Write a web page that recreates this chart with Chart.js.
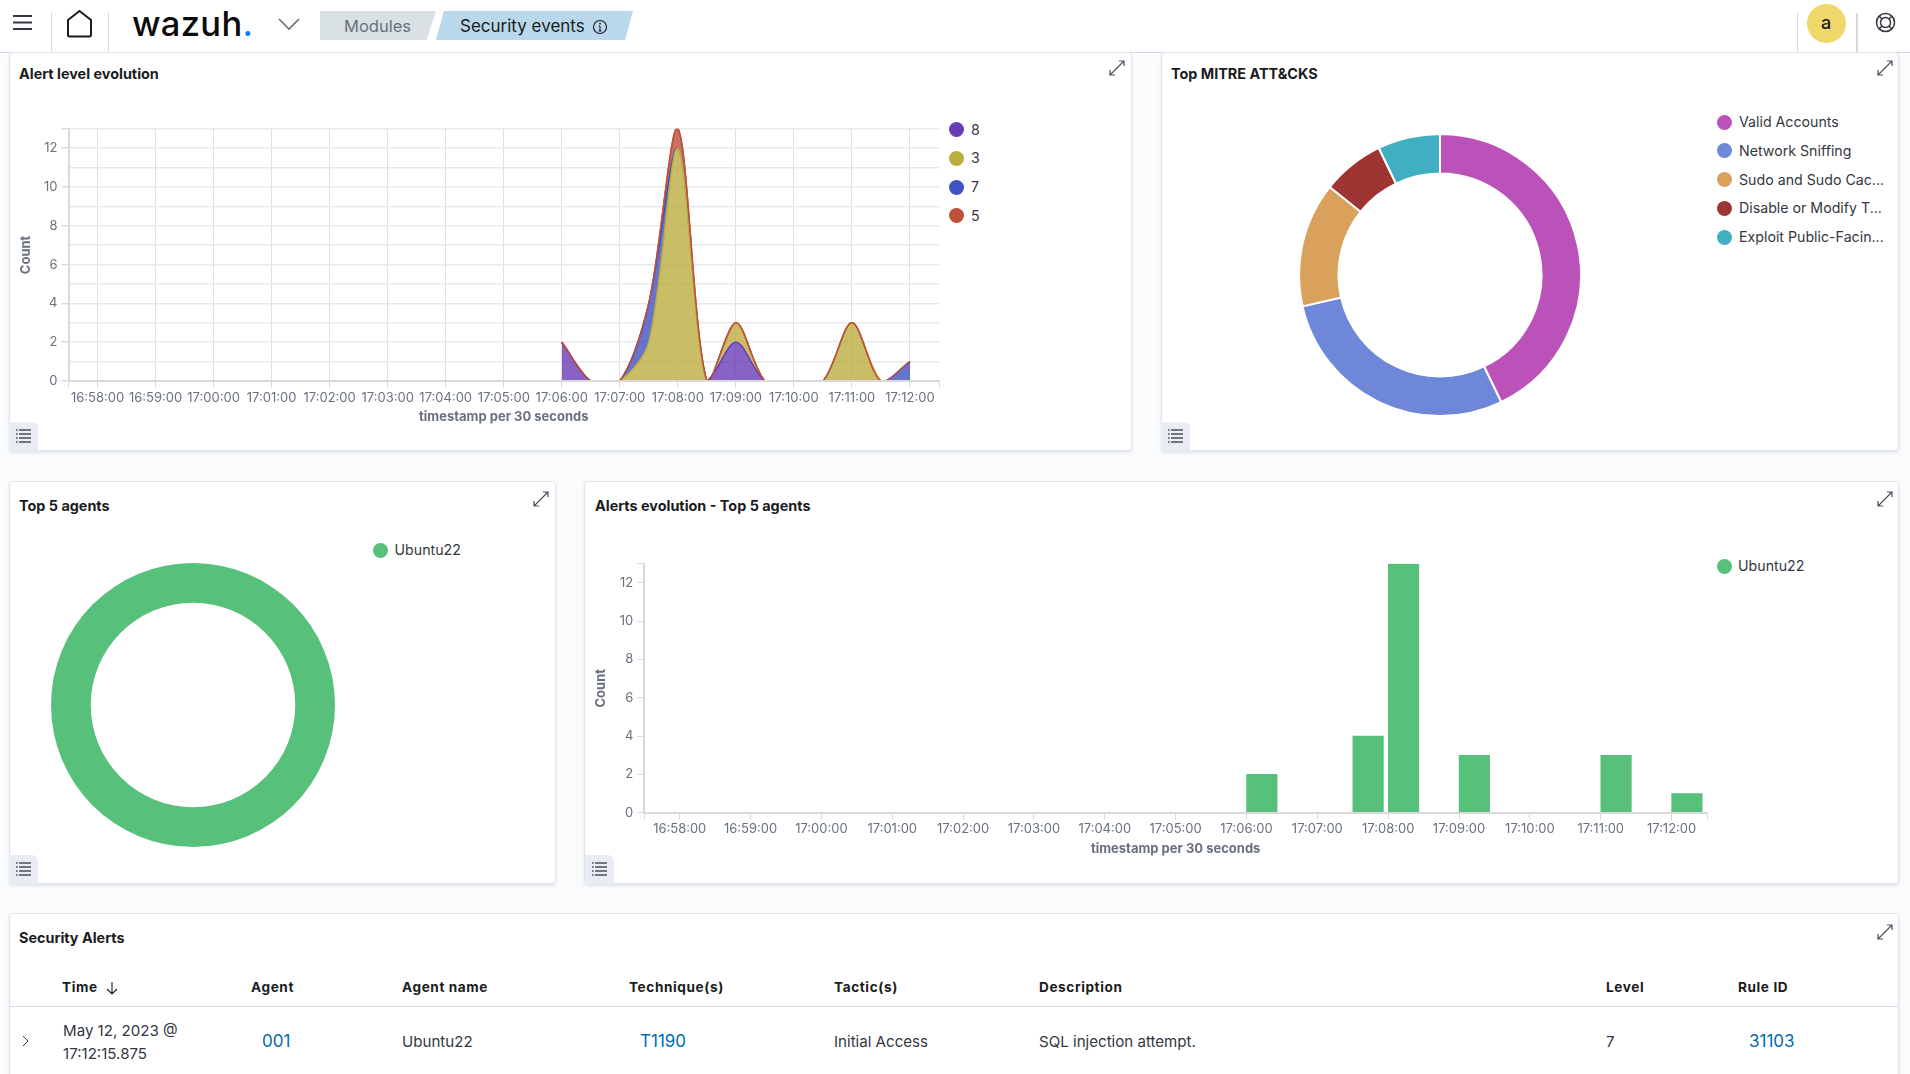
<!DOCTYPE html>
<html>
<head>
<meta charset="utf-8">
<title>Security events</title>
<script src="https://cdn.jsdelivr.net/npm/chart.js"></script>
<style>
html, body { margin: 0; padding: 0; width: 1910px; height: 1074px; overflow: hidden; background: #fafbfd; font-family: Inter, sans-serif; color: #343741; }
.abs, .panel, canvas, svg, .txt { position: absolute; }
.txt { white-space: nowrap; line-height: 1; }
#topbar { position: absolute; left: 0; top: 0; width: 1910px; height: 52px; background: #fff; border-bottom: 1px solid #d3dae6; }
.sep { position: absolute; top: 13px; width: 1px; height: 39px; background: #d3dae6; }
.panel { background: #fff; border: 1px solid #dfe4ee; border-radius: 4px; box-sizing: border-box; box-shadow: 0 2px 3px rgba(152,162,179,.25); }
.title { font-size: 14.4px; font-weight: 700; color: #1a1c21; }
.toggle { position: absolute; width: 29px; height: 29px; background: #e9edf3; border-radius: 0 6px 0 4px; }
.dot { position: absolute; width: 15px; height: 15px; border-radius: 50%; }
.leg { font-size: 14.2px; color: #343741; }
.th { font-size: 13.6px; font-weight: 700; color: #1a1c21; letter-spacing: .6px; }
.td { font-size: 15.1px; color: #343741; }
.link { font-size: 17px; color: #006bb4; }
</style>
</head>
<body>

<div id="topbar">
  <svg style="left:13px;top:14px" width="20" height="18" viewBox="0 0 20 18"><path d="M0 2h19M0 8.5h19M0 15h19" stroke="#343741" stroke-width="2"/></svg>
  <div class="sep" style="left:51px"></div>
  <svg style="left:66px;top:9px" width="27" height="29" viewBox="0 0 27 29"><path d="M2 11 L13.5 2 L25 11 V26 Q25 27.5 23 27.5 H4 Q2 27.5 2 26 Z" fill="none" stroke="#1a1c21" stroke-width="2"/></svg>
  <div class="sep" style="left:108px"></div>
  <div class="txt" style="left:132px;top:7px;font-size:34.5px;font-weight:500;color:#0b0b0d;letter-spacing:.3px">wazuh<span style="color:#0a7cff">.</span></div>
  <svg style="left:277px;top:17px" width="24" height="14" viewBox="0 0 24 14"><path d="M2 2 L12 12 L22 2" fill="none" stroke="#69707d" stroke-width="1.6"/></svg>
  <div class="abs" style="left:320px;top:11px;width:116px;height:29px;background:#d9e1e4;clip-path:polygon(0 0,100% 0,92% 100%,0 100%)"></div>
  <div class="txt" style="left:344px;top:18px;font-size:16.5px;color:#69707d">Modules</div>
  <div class="abs" style="left:436px;top:11px;width:197px;height:29px;background:#b9d8ec;clip-path:polygon(4% 0,100% 0,96% 100%,0 100%)"></div>
  <div class="txt" style="left:460px;top:18px;font-size:17px;color:#1a1c21">Security events</div>
  <svg style="left:592px;top:19px" width="16" height="16" viewBox="0 0 16 16"><circle cx="8" cy="8" r="6.5" fill="none" stroke="#1a1c21" stroke-width="1.1"/><path d="M8 7v5M6.5 12h3M6.8 7H8" stroke="#1a1c21" stroke-width="1.1" fill="none"/><circle cx="8" cy="4.6" r=".9" fill="#1a1c21"/></svg>
  <div class="sep" style="left:1797px"></div>
  <div class="abs" style="left:1807px;top:4px;width:39px;height:39px;border-radius:50%;background:#f0d76c"></div>
  <div class="txt" style="left:1821px;top:14px;font-size:18px;font-weight:500;color:#1a1c21">a</div>
  <div class="sep" style="left:1856px;width:2px"></div>
  <svg style="left:1875px;top:12px" width="21" height="21" viewBox="0 0 21 21"><g fill="none" stroke="#343741" stroke-width="1.5"><circle cx="10.5" cy="10.5" r="9"/><circle cx="10.5" cy="10.5" r="5"/><path d="M4 4l3 3M17 4l-3 3M4 17l3-3M17 17l-3-3"/></g></svg>
</div>

<div class="panel" style="left:9px;top:52px;width:1123px;height:399px"></div>
<div class="panel" style="left:1161px;top:52px;width:738px;height:399px"></div>
<div class="panel" style="left:9px;top:481px;width:547px;height:403px"></div>
<div class="panel" style="left:584px;top:481px;width:1315px;height:403px"></div>
<div class="panel" style="left:9px;top:913px;width:1890px;height:200px"></div>

<div class="txt title" style="left:19px;top:67px">Alert level evolution</div>
<div class="txt title" style="left:1171px;top:67px">Top MITRE ATT&amp;CKS</div>
<div class="txt title" style="left:19px;top:499px">Top 5 agents</div>
<div class="txt title" style="left:595px;top:499px">Alerts evolution - Top 5 agents</div>
<div class="txt title" style="left:19px;top:931px">Security Alerts</div>

<canvas id="level-chart" width="935" height="308" style="left:10px;top:117px"></canvas>
<canvas id="mitre-chart" width="284" height="284" style="left:1298px;top:133px"></canvas>
<canvas id="agents-chart" width="284" height="284" style="left:50.5px;top:563px"></canvas>
<canvas id="evolution-chart" width="1128" height="305" style="left:585px;top:552px"></canvas>

<div id="level-legend"></div>
<div id="mitre-legend"></div>
<div id="agents-legend"></div>
<div id="evolution-legend"></div>

<div id="icons"></div>

<div class="txt th" style="left:62px;top:981px">Time</div>
<svg style="left:105px;top:981px" width="14" height="14" viewBox="0 0 14 14"><path d="M7 1v12M2 8l5 5 5-5" fill="none" stroke="#1a1c21" stroke-width="1.1"/></svg>
<div class="txt th" style="left:251px;top:981px">Agent</div>
<div class="txt th" style="left:402px;top:981px">Agent name</div>
<div class="txt th" style="left:629px;top:981px">Technique(s)</div>
<div class="txt th" style="left:834px;top:981px">Tactic(s)</div>
<div class="txt th" style="left:1039px;top:981px">Description</div>
<div class="txt th" style="left:1606px;top:981px">Level</div>
<div class="txt th" style="left:1738px;top:981px">Rule ID</div>
<div class="abs" style="left:10px;top:1006px;width:1888px;height:1px;background:#d3dae6"></div>

<svg style="left:22px;top:1035px" width="8" height="12" viewBox="0 0 8 12"><path d="M1 1l5 5-5 5" fill="none" stroke="#343741" stroke-width="1"/></svg>
<div class="txt td" style="left:63px;top:1022.5px">May 12, 2023 @</div>
<div class="txt td" style="left:63px;top:1045.5px">17:12:15.875</div>
<div class="txt link" style="left:262px;top:1033px">001</div>
<div class="txt td" style="left:402px;top:1034px">Ubuntu22</div>
<div class="txt link" style="left:640px;top:1033px">T1190</div>
<div class="txt td" style="left:834px;top:1034px">Initial Access</div>
<div class="txt td" style="left:1039px;top:1034px">SQL injection attempt.</div>
<div class="txt td" style="left:1606px;top:1034px">7</div>
<div class="txt link" style="left:1749px;top:1033px">31103</div>

<script>
// Alert level evolution
var levelTimes = ['17:06:00','17:06:30','17:07:00','17:07:30','17:08:00','17:08:30','17:09:00','17:09:30','17:10:00','17:10:30','17:11:00','17:11:30','17:12:00'];
var level8 = [2,0,0,0,0,0,2,0,0,0,0,0,0];
var level3 = [0,0,0,2,12,0,1,0,0,0,3,0,0];
var level7 = [0,0,0,2,0,0,0,0,0,0,0,0,1];
var level5 = [0,0,0,0,1,0,0,0,0,0,0,0,0];
var levelNames = ['8','3','7','5'];

// Top MITRE ATT&CKS
var mitreNames = ['Valid Accounts','Network Sniffing','Sudo and Sudo Cac...','Disable or Modify T...','Exploit Public-Facin...'];
var mitreCounts = [6,4,2,1,1];

// Top 5 agents
var agentNames = ['Ubuntu22'];
var agentCounts = [26];

// Alerts evolution - Top 5 agents
var agentTimes = levelTimes;
var agentSeries = [2,0,0,4,13,0,3,0,0,0,3,0,1];

// axis
var xTickLabels = ['16:58:00','16:59:00','17:00:00','17:01:00','17:02:00','17:03:00','17:04:00','17:05:00','17:06:00','17:07:00','17:08:00','17:09:00','17:10:00','17:11:00','17:12:00'];
var xStart = '16:57:30';
var xEnd = '17:12:30';
var xTitle = 'timestamp per 30 seconds';
var yTitle = 'Count';

var levelColors = ['#6a3cb8','#bcae3e','#3e52c0','#c0503c'];
var levelFills = ['rgba(106,60,184,.8)','rgba(188,174,62,.8)','rgba(62,82,192,.8)','rgba(192,80,60,.8)'];
var mitreColors = ['#bb52b9','#6e87d9','#d9a15c','#9e3533','#40afc1'];
var green = '#57c17b';
var tickGrey = '#69707d';
var lineGrey = '#d9d9d9';

Chart.defaults.font.family = 'Inter';
Chart.defaults.animation = false;

function toSec(t) {
    var p = t.split(':');
    return p[0]*3600 + p[1]*60 + p[2]*1;
}
function fromSec(v) {
    var pad = function(n){ return (n<10?'0':'') + n; };
    return pad(Math.floor(v/3600)) + ':' + pad(Math.floor(v/60)%60) + ':' + pad(v%60);
}
var xMin = toSec(xStart), xMax = toSec(xEnd);

function xAxis(vGrid, height) {
    return {
        type: 'linear', min: xMin, max: xMax, offset: false,
        afterBuildTicks: function(axis) {
            axis.ticks = [xMin].concat(xTickLabels.map(toSec), [xMax]).map(function(v){ return {value:v}; });
        },
        afterFit: function(axis) { axis.height = height; },
        ticks: {
            autoSkip: false, maxRotation: 0, minRotation: 0, padding: 2, color: tickGrey, font: {size: 13},
            callback: function(v) { return (v===xMin || v===xMax) ? '' : fromSec(v); }
        },
        grid: {
            offset: false, tickLength: 7, tickColor: lineGrey, lineWidth: 1,
            drawOnChartArea: vGrid,
            color: function(c) { return (c.tick && (c.tick.value===xMin || c.tick.value===xMax)) ? 'transparent' : '#dfe0e6'; }
        },
        border: {color: lineGrey, width: 2, z: 1},
        title: {display: true, text: xTitle, color: tickGrey, padding: 0, font: {size: 13, weight: 'bold'}}
    };
}
function yAxis(hGrid, width) {
    return {
        min: 0, max: 13, stacked: true,
        afterFit: function(axis) { axis.width = width; },
        ticks: {
            stepSize: 1, autoSkip: false, padding: 4, color: tickGrey, font: {size: 13},
            callback: function(v) { return (v%2 || v===13) ? '' : v; }
        },
        grid: {
            tickLength: 7, lineWidth: hGrid ? 1.5 : 1,
            drawOnChartArea: hGrid, color: '#e8e9ee',
            tickColor: function(c) { return (c.tick && c.tick.value%2 && c.tick.value!==13) ? 'transparent' : lineGrey; }
        },
        border: {color: lineGrey, width: 2},
        title: {display: true, text: yTitle, color: tickGrey, padding: {top: 8, bottom: 0}, font: {size: 13, weight: 'bold'}}
    };
}

function areaSet(values, i) {
    return {
        label: levelNames[i],
        data: levelTimes.map(function(t, k){ return {x: toSec(t), y: values[k]}; }),
        borderColor: levelColors[i], backgroundColor: levelFills[i],
        fill: i===0 ? 'origin' : '-1', clip: 0
    };
}

// the top stack line goes over the others in the original
var topLine = {
    id: 'topLine',
    afterDatasetsDraw: function(chart) {
        var a = chart.chartArea, ctx = chart.ctx;
        ctx.save();
        ctx.beginPath();
        ctx.rect(a.left, a.top, a.right-a.left, a.bottom-a.top);
        ctx.clip();
        chart.getDatasetMeta(3).dataset.draw(ctx, a);
        ctx.restore();
    }
};

new Chart(document.getElementById('level-chart'), {
    type: 'line',
    data: {datasets: [areaSet(level8,0), areaSet(level3,1), areaSet(level7,2), areaSet(level5,3)]},
    options: {
        responsive: false,
        layout: {padding: {top: 10, right: 6, left: 0, bottom: 0}},
        elements: {point: {radius: 0}, line: {tension: 0.3, borderWidth: 1.5, capBezierPoints: false}},
        plugins: {legend: {display: false}, tooltip: {enabled: false}},
        scales: {x: xAxis(true, 44), y: yAxis(true, 58.5)}
    },
    plugins: [topLine]
});

new Chart(document.getElementById('mitre-chart'), {
    type: 'doughnut',
    data: {labels: mitreNames, datasets: [{data: mitreCounts, backgroundColor: mitreColors, borderColor: '#fff', borderWidth: 2}]},
    options: {responsive: false, cutout: '72%', plugins: {legend: {display: false}, tooltip: {enabled: false}}}
});

new Chart(document.getElementById('agents-chart'), {
    type: 'doughnut',
    data: {labels: agentNames, datasets: [{data: agentCounts, backgroundColor: [green], borderWidth: 0}]},
    options: {responsive: false, cutout: '72%', plugins: {legend: {display: false}, tooltip: {enabled: false}}}
});

// bars start at their bucket's tick, not centred on it
var barLead = 13;
new Chart(document.getElementById('evolution-chart'), {
    type: 'bar',
    data: {datasets: [{
        label: agentNames[0],
        data: agentTimes.map(function(t, k){ return {x: toSec(t)+barLead, y: agentSeries[k]}; }),
        backgroundColor: green, barThickness: 30.5
    }]},
    options: {
        responsive: false,
        layout: {padding: {top: 10, right: 6, left: 0, bottom: 0}},
        plugins: {legend: {display: false}, tooltip: {enabled: false}},
        scales: {x: xAxis(false, 44.3), y: yAxis(false, 59.3)}
    }
});

// legends and panel icons
function legend(id, names, colors, dotX, textX, y0, dy) {
    var box = document.getElementById(id), html = '';
    names.forEach(function(n, i) {
        var y = y0 + dy*i;
        html += '<div class="dot" style="left:'+(dotX-7.5)+'px;top:'+(y-7.5)+'px;background:'+colors[i]+'"></div>';
        html += '<div class="txt leg" style="left:'+textX+'px;top:'+(y-7)+'px">'+n+'</div>';
    });
    box.innerHTML = html;
}
legend('level-legend', levelNames, levelColors, 956, 971, 129.5, 28.8);
legend('mitre-legend', mitreNames, mitreColors, 1724.5, 1739, 122, 28.8);
legend('agents-legend', agentNames, [green], 380, 394.5, 550, 0);
legend('evolution-legend', agentNames, [green], 1724, 1738, 566, 0);

var expandIcon = '<path d="M2 11v5h5M2 16L16 2M11 2h5v5" fill="none" stroke="#4a4f5a" stroke-width="1.2"/>';
var listIcon = '<path d="M10 8h12M10 12h12M10 16h12M10 20h12" stroke="#4a4f5a" stroke-width="1.4"/><path d="M7 8h1.6M7 12h1.6M7 16h1.6M7 20h1.6" stroke="#4a4f5a" stroke-width="1.4"/>';
var html = '';
[[1108,59],[1876,59],[532,490],[1876,490],[1876,923]].forEach(function(p) {
    html += '<svg style="left:'+p[0]+'px;top:'+p[1]+'px" width="18" height="18" viewBox="0 0 18 18">'+expandIcon+'</svg>';
});
[[9,422],[1161,422],[9,855],[585,855]].forEach(function(p) {
    html += '<div class="toggle" style="left:'+p[0]+'px;top:'+p[1]+'px"><svg style="left:0;top:0" width="29" height="29">'+listIcon+'</svg></div>';
});
document.getElementById('icons').innerHTML = html;
</script>
</body>
</html>
